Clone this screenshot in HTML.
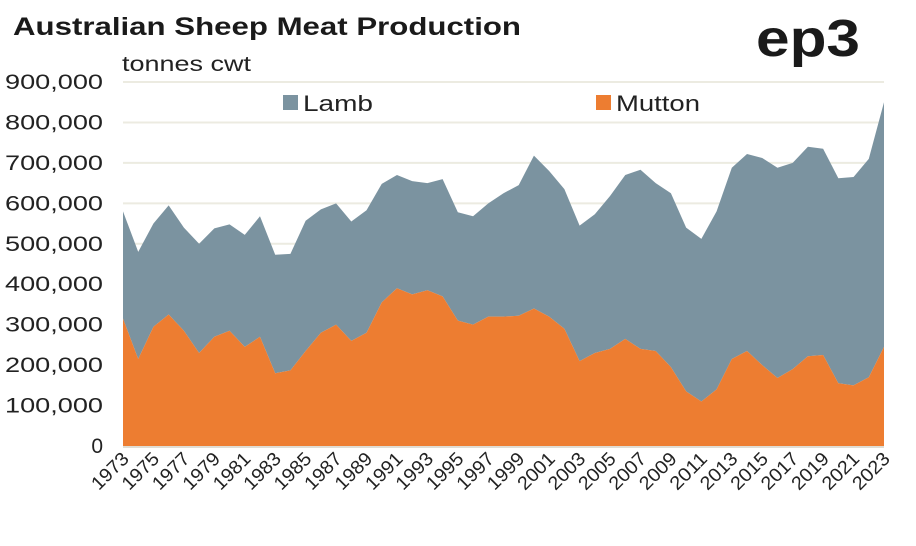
<!DOCTYPE html>
<html><head><meta charset="utf-8"><style>
body{margin:0;background:#fff;font-family:"Liberation Sans",sans-serif;}
</style></head><body>
<svg id="chart" width="916" height="541" xmlns="http://www.w3.org/2000/svg">
<text x="13" y="35" font-size="25" font-weight="bold" fill="#1a1a1a" textLength="508" lengthAdjust="spacingAndGlyphs">Australian Sheep Meat Production</text>
<text x="756" y="56" font-size="52" font-weight="bold" fill="#1a1a1a" textLength="104" lengthAdjust="spacingAndGlyphs">ep3</text>
<text x="122" y="71" font-size="21" fill="#222" textLength="129" lengthAdjust="spacingAndGlyphs">tonnes cwt</text>
<g id="grid"></g><g id="areas"></g><g id="yt"></g><g id="xt"></g>
<rect x="283" y="95" width="15" height="15" fill="#7b93a0"/>
<text x="303" y="111" font-size="22" fill="#222" textLength="70" lengthAdjust="spacingAndGlyphs">Lamb</text>
<rect x="596" y="95" width="15" height="15" fill="#ed7d31"/>
<text x="616" y="111" font-size="22" fill="#222" textLength="84" lengthAdjust="spacingAndGlyphs">Mutton</text>
</svg>
<script>
const years=[];for(let y=1973;y<=2023;y++)years.push(y);
const mutton=[315,215,295,325,285,230,270,285,245,270,180,187,235,280,300,260,280,355,390,375,385,370,310,300,320,320,322,340,320,290,210,230,240,265,240,235,195,135,110,140,215,235,200,168,190,222,225,155,150,170,245];
const lamb=[265,265,255,270,255,270,268,263,277,298,293,288,322,305,300,295,303,293,280,280,265,290,268,268,280,305,323,378,360,345,335,343,378,405,443,415,430,405,402,440,473,487,512,520,510,518,510,507,515,540,605];
const yTicks=[0,100,200,300,400,500,600,700,800,900];
const NS="http://www.w3.org/2000/svg";
const x0=123,x1=884,yb=446,yt=82;
const X=i=>x0+i*(x1-x0)/(years.length-1);
const Y=v=>yb-v*(yb-yt)/900;
function mk(tag,at,parent){const e=document.createElementNS(NS,tag);for(const k in at)e.setAttribute(k,at[k]);document.getElementById(parent).appendChild(e);return e;}
yTicks.forEach(t=>{
 if(t>0){const l=mk('line',{x1:x0,x2:x1,y1:Y(t),y2:Y(t),stroke:'#ecebe1','stroke-width':2},'grid');
 
 }
 const s=t===0?'0':t.toLocaleString('en-US')+',000';
 const at={x:103,y:Y(t)+7,'font-size':21,'text-anchor':'end',fill:'#222'};
 if(s.length>1){at.textLength=s.length*14;at.lengthAdjust='spacingAndGlyphs';}
 const tx=mk('text',at,'yt');
 tx.textContent=s;
 
 
});
let mp=`M${X(0)},${yb}`;mutton.forEach((v,i)=>mp+=`L${X(i)},${Y(v)}`);mp+=`L${X(years.length-1)},${yb}Z`;
let lp='';lamb.forEach((v,i)=>lp+=(i?'L':'M')+X(i)+','+Y(v+mutton[i]));
for(let i=years.length-1;i>=0;i--)lp+=`L${X(i)},${Y(mutton[i])}`;lp+='Z';
const la=mk('path',{d:lp,fill:'#7b93a0'},'areas');


const ma=mk('path',{d:mp,fill:'#ed7d31'},'areas');


const ax=mk('line',{x1:x0,x2:x1,y1:yb+1,y2:yb+1,stroke:'#e0ddd4','stroke-width':2},'areas');


years.forEach((y,i)=>{if(i%2)return;
 const px=X(i)+7,py=yb+14;
 const t=mk('text',{x:px,y:py,'font-size':19,'text-anchor':'end',fill:'#222',textLength:44,lengthAdjust:'spacingAndGlyphs',transform:`rotate(-45 ${px} ${py})`},'xt');
 t.textContent=y;
 
 
});
</script>
</body></html>
